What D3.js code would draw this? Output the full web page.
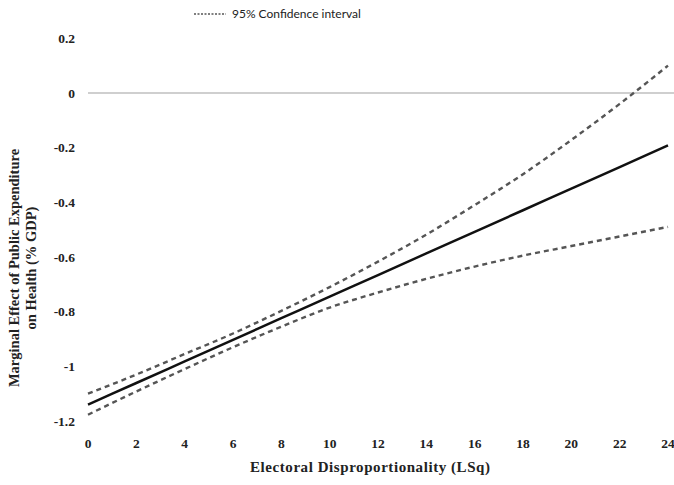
<!DOCTYPE html>
<html><head><meta charset="utf-8">
<script src="https://cdn.jsdelivr.net/npm/d3@7"></script>
<style>body{margin:0;background:#fff}svg{display:block}</style>
</head><body>
<script>
const xValues = [0,2,4,6,8,10,12,14,16,18,20,22,24];
const marginalEffect = [-1.14,-1.061,-0.982,-0.903,-0.824,-0.745,-0.666,-0.587,-0.508,-0.429,-0.35,-0.271,-0.192];
const upperCI = [-1.10,-1.03,-0.955,-0.88,-0.797,-0.71,-0.617,-0.518,-0.41,-0.297,-0.172,-0.04,0.10];
const lowerCI = [-1.177,-1.092,-1.01,-0.93,-0.855,-0.785,-0.73,-0.68,-0.635,-0.595,-0.56,-0.525,-0.49];
const xTicks = [0,2,4,6,8,10,12,14,16,18,20,22,24];
const yTicks = [0.2,0,-0.2,-0.4,-0.6,-0.8,-1,-1.2];
const legendLabel = "95% Confidence interval";
const xTitle = "Electoral Disproportionality (LSq)";
const yTitle = ["Marginal Effect of Public Expenditure","on Health (% GDP)"];

const W=674,H=485;
const svg=d3.select("body").append("svg").attr("width",W).attr("height",H);
const x=d3.scaleLinear().domain([0,24]).range([88,668]);
const y=d3.scaleLinear().domain([-1.2,0.2]).range([421,38.3]);
const serif="'Liberation Serif','Times New Roman',serif";

// zero line
svg.append("line").attr("x1",x(0)).attr("x2",W).attr("y1",y(0)).attr("y2",y(0))
  .attr("stroke","#cfcfcf").attr("stroke-width",2);

// y tick labels
svg.append("g").selectAll("text").data(yTicks).join("text")
  .attr("x",75).attr("y",d=>y(d)).attr("dy","0.35em").attr("text-anchor","end")
  .attr("font-family",serif).attr("font-weight","bold").attr("font-size",13.5).attr("fill","#222")
  .text(d=>d===0?"0":String(d));

// x tick labels
svg.append("g").selectAll("text").data(xTicks).join("text")
  .attr("x",d=>x(d)).attr("y",443).attr("dy","0.35em").attr("text-anchor","middle")
  .attr("font-family",serif).attr("font-weight","bold").attr("font-size",13.5).attr("fill","#222")
  .text(d=>d);

const line=vals=>d3.line().curve(d3.curveMonotoneX).x((d,i)=>x(xValues[i])).y(d=>y(d))(vals);
svg.append("path").attr("d",line(upperCI)).attr("fill","none").attr("stroke","#555").attr("stroke-width",2.4).attr("stroke-dasharray","5,4");
svg.append("path").attr("d",line(lowerCI)).attr("fill","none").attr("stroke","#555").attr("stroke-width",2.4).attr("stroke-dasharray","5,4");
svg.append("path").attr("d",line(marginalEffect)).attr("fill","none").attr("stroke","#111").attr("stroke-width",2.5);

// legend
svg.append("line").attr("x1",194).attr("x2",226).attr("y1",14).attr("y2",14)
  .attr("stroke","#555").attr("stroke-width",1.5).attr("stroke-dasharray","2,1.5");
svg.append("text").attr("x",232).attr("y",14).attr("dy","0.35em")
  .attr("font-family","Lato,'Open Sans',sans-serif").attr("font-size",12).attr("fill","#222").text(legendLabel);

// axis titles
svg.append("text").attr("x",370).attr("y",467).attr("dy","0.35em").attr("text-anchor","middle")
  .attr("font-family",serif).attr("font-weight","bold").attr("font-size",15).attr("fill","#222")
  .attr("textLength",240).attr("lengthAdjust","spacing").text(xTitle);
const yt=svg.append("text").attr("transform","translate(0,268) rotate(-90)").attr("text-anchor","middle")
  .attr("font-family",serif).attr("font-weight","bold").attr("font-size",14.5).attr("fill","#222");
yt.append("tspan").attr("x",0).attr("y",19).text(yTitle[0]);
yt.append("tspan").attr("x",0).attr("y",36).text(yTitle[1]);
</script>
</body></html>
